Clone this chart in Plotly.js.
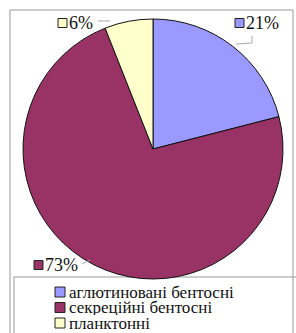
<!DOCTYPE html>
<html><head><meta charset="utf-8">
<script src="https://cdn.plot.ly/plotly-3.0.1.min.js"></script>
<style>html,body{margin:0;padding:0;background:#fff;}#chart{width:296px;height:333px;}</style>
</head><body><div id="chart"></div>
<script>
const categories = ["аглютиновані бентосні", "секреційні бентосні", "планктонні"];
const values = [21, 73, 6];
const colors = ["#9999FF", "#993366", "#FFFFCC"];

const W = 296, H = 333;
const px = x => x / W, py = y => 1 - y / H;
const total = values.reduce((a, b) => a + b, 0);
const pct = values.map(v => Math.round(v * 100 / total) + "%");

const serif = "Liberation Serif";

// label anchor positions (pixels): left edge of marker square, vertical center
const labelPos = [[235, 23], [34, 265], [58, 23]];

const annotations = [], shapes = [];
labelPos.forEach((p, i) => {
  shapes.push({type: "rect", xref: "paper", yref: "paper",
    x0: px(p[0]), x1: px(p[0] + 9), y0: py(p[1] + 4.5), y1: py(p[1] - 4.5),
    fillcolor: colors[i], line: {color: "#222", width: 1}});
  annotations.push({xref: "paper", yref: "paper", x: px(p[0] + 9), y: py(p[1]),
    xanchor: "left", yanchor: "middle", showarrow: false, text: pct[i],
    font: {family: serif, size: 18, color: "#111"}});
});
// leader lines
const leaders = [[[236, 44], [252, 43], [252, 36]], [[82, 264], [90, 260]], [[98, 21], [110, 21]]];
leaders.forEach(l => {
  for (let k = 0; k < l.length - 1; k++) {
    shapes.push({type: "line", xref: "paper", yref: "paper",
      x0: px(l[k][0]), y0: py(l[k][1]), x1: px(l[k + 1][0]), y1: py(l[k + 1][1]),
      line: {color: "#aaa", width: 1}});
  }
});
// outer frame and legend box
shapes.push({type: "rect", xref: "paper", yref: "paper", x0: px(10), x1: px(293), y0: py(336), y1: py(10),
  line: {color: "#999", width: 1}, fillcolor: "rgba(0,0,0,0)", layer: "below"});
shapes.push({type: "rect", xref: "paper", yref: "paper", x0: px(14), x1: px(297), y0: py(336), y1: py(277),
  line: {color: "#999", width: 1}, fillcolor: "rgba(0,0,0,0)", layer: "below"});
// manual legend
categories.forEach((c, i) => {
  const yc = 292 + i * 15.5;
  shapes.push({type: "rect", xref: "paper", yref: "paper",
    x0: px(55), x1: px(65), y0: py(yc + 5), y1: py(yc - 5),
    fillcolor: colors[i], line: {color: "#222", width: 1}});
  annotations.push({xref: "paper", yref: "paper", x: px(67), y: py(yc),
    xanchor: "left", yanchor: "middle", showarrow: false, text: c, height: 15,
    font: {family: serif, size: 17, color: "#111"}});
});

const data = [{
  type: "pie", labels: categories, values: values, sort: false,
  direction: "clockwise", rotation: 0,
  marker: {colors: colors, line: {color: "#111", width: 1}},
  textinfo: "none", hoverinfo: "none",
  domain: {x: [px(23), px(283)], y: [py(279), py(19)]}
}];

const layout = {
  width: W, height: H, margin: {l: 0, r: 0, t: 0, b: 0},
  paper_bgcolor: "#fff", showlegend: false,
  annotations: annotations, shapes: shapes
};
Plotly.newPlot("chart", data, layout, {displayModeBar: false, staticPlot: true});
</script></body></html>
